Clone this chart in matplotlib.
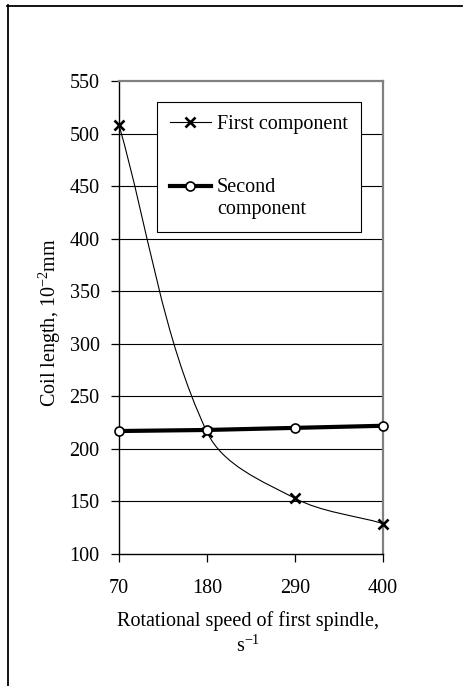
import numpy as np
import matplotlib
matplotlib.use("Agg")
import matplotlib.pyplot as plt
from matplotlib.path import Path
from matplotlib.patches import PathPatch
from matplotlib.lines import Line2D
from matplotlib.legend_handler import HandlerLine2D

plt.rcParams['font.family'] = ['Liberation Serif', 'DejaVu Serif']
plt.rcParams['mathtext.fontset'] = 'custom'
plt.rcParams['mathtext.rm'] = 'Liberation Serif'
plt.rcParams['mathtext.it'] = 'Liberation Serif:italic'

# data
speeds = ['70', '180', '290', '400']
first_component = [508, 216, 153, 129]
second_component = [217, 218, 220, 222]
y_ticks = [100, 150, 200, 250, 300, 350, 400, 450, 500, 550]

FS = 14.5


def smooth_path(ax, xs, ys):
    """Excel-like smoothed line: cubic Beziers through the points, tangents
    parallel to the neighbour chord, handle length a third of the segment
    (worked out in screen space so the curve does not overshoot)."""
    pts = ax.transData.transform(np.column_stack([xs, ys]).astype(float))
    n = len(pts)
    tangents = []
    for i in range(n):
        a = pts[max(i - 1, 0)]
        b = pts[min(i + 1, n - 1)]
        d = b - a
        tangents.append(d / np.hypot(*d))
    verts = [pts[0]]
    codes = [Path.MOVETO]
    for i in range(n - 1):
        seg = np.hypot(*(pts[i + 1] - pts[i])) / 3.0
        c1 = pts[i] + tangents[i] * seg
        c2 = pts[i + 1] - tangents[i + 1] * seg
        verts += [c1, c2, pts[i + 1]]
        codes += [Path.CURVE4] * 3
    verts = ax.transData.inverted().transform(np.array(verts))
    return Path(verts, codes)


class HandlerFirstLine(HandlerLine2D):
    """Put the legend handle beside the first line of a two-line label."""
    def __init__(self, shift_lines=0.0, **kw):
        super().__init__(**kw)
        self.shift_lines = shift_lines

    def create_artists(self, legend, orig_handle, xdescent, ydescent,
                       width, height, fontsize, trans):
        artists = super().create_artists(legend, orig_handle, xdescent, ydescent,
                                         width, height, fontsize, trans)
        for a in artists:
            a.set_ydata(np.asarray(a.get_ydata()) + self.shift_lines * 0.6 * fontsize)
        return artists


fig = plt.figure(figsize=(4.66, 6.86), dpi=100)
ax = fig.add_axes([119 / 466, 1 - 554 / 686, 264 / 466, 473 / 686])

x = np.arange(len(speeds))
ax.set_xlim(0, len(speeds) - 1)
ax.set_ylim(100, 550)

# gridlines
for yv in y_ticks[1:-1]:
    ax.axhline(yv, color='black', linewidth=0.8, zorder=1)

# first component: smoothed thin line with x markers
ax.add_patch(PathPatch(smooth_path(ax, x, first_component), fill=False,
                       edgecolor='black', linewidth=0.8, zorder=3))
ax.plot(x, first_component, linestyle='none', marker='x', color='black',
        markersize=6.5, markeredgewidth=1.9, zorder=4, clip_on=False)

# second component: thick line with open circles
ax.plot(x, second_component, color='black', linewidth=3.0, marker='o',
        markersize=6.5, markerfacecolor='white', markeredgecolor='black',
        markeredgewidth=1.2, zorder=5, clip_on=False)

ax.set_xticks(x)
ax.set_xticklabels(speeds, fontsize=FS)
ax.set_yticks(y_ticks)
ax.set_yticklabels([str(v) for v in y_ticks], fontsize=FS)
ax.tick_params(direction='out', length=6, width=0.9, color='black')
ax.tick_params(axis='x', pad=12)
ax.tick_params(axis='y', pad=8)

for side in ['top', 'right']:
    ax.spines[side].set_color('#808080')
    ax.spines[side].set_linewidth(1.6)
for side in ['left', 'bottom']:
    ax.spines[side].set_color('black')
    ax.spines[side].set_linewidth(1.0)

ax.set_ylabel('Coil length, 10$^{-2}$mm', fontsize=FS)
ax.yaxis.set_label_coords(-0.212, 0.49)
ax.set_xlabel('Rotational speed of first spindle,\ns$^{-1}$', fontsize=FS,
              linespacing=1.3)
ax.xaxis.set_label_coords(0.49, -0.12)

# legend
h_first = Line2D([], [], color='black', linewidth=0.8, marker='x', markersize=6.5,
                 markeredgewidth=1.9)
h_second = Line2D([], [], color='black', linewidth=3.0, marker='o', markersize=6.5,
                  markerfacecolor='white', markeredgewidth=1.2)
leg = ax.legend([h_first, h_second], ['First component', 'Second\ncomponent'],
                handler_map={h_second: HandlerFirstLine(shift_lines=1.0)},
                loc='upper left', bbox_to_anchor=(157 / 466, 1 - 102 / 686),
                bbox_transform=fig.transFigure, fontsize=FS, frameon=True,
                fancybox=False, edgecolor='black', framealpha=1,
                handlelength=2.05, handletextpad=0.3, labelspacing=2.2,
                borderpad=0.63, borderaxespad=0)
leg.get_frame().set_linewidth(0.8)
leg.set_zorder(10)

# outer chart frame (only left and top visible)
fig.add_artist(Line2D([7.5 / 466, 7.5 / 466], [0, 1 - 5 / 686],
                      transform=fig.transFigure, color='black', linewidth=1.3))
fig.add_artist(Line2D([7 / 466, 462 / 466], [1 - 5.5 / 686, 1 - 5.5 / 686],
                      transform=fig.transFigure, color='black', linewidth=1.3))

fig.savefig('out.png', dpi=100)
